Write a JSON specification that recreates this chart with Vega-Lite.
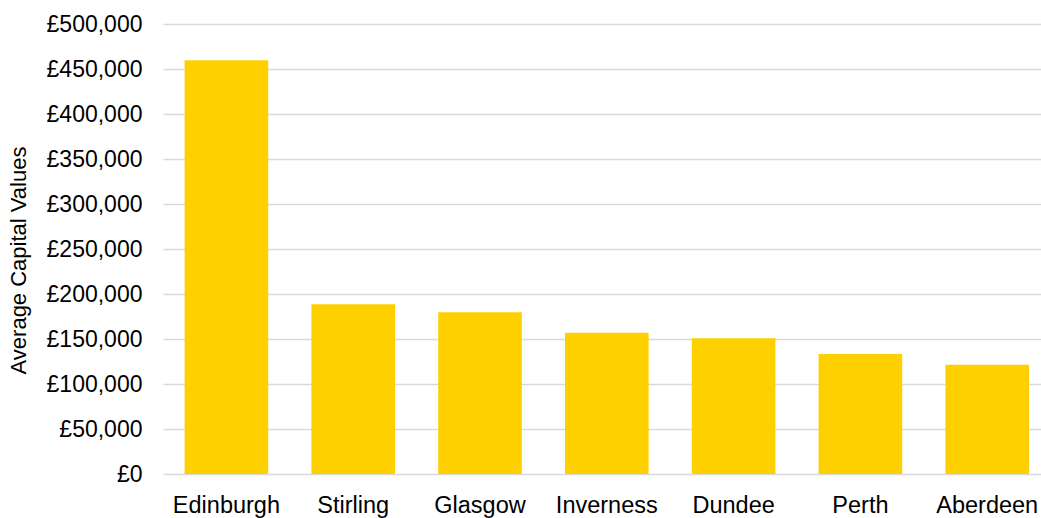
{
  "$schema": "https://vega.github.io/schema/vega-lite/v6.json",
  "autosize": "none",
  "width": 878,
  "height": 450,
  "padding": {"left": 163, "top": 24, "right": 0, "bottom": 44},
  "background": "white",
  "config": {
    "view": {"stroke": null},
    "font": "Liberation Sans",
    "axis": {"labelFont": "Liberation Sans", "titleFont": "Liberation Sans", "labelColor": "#000000", "titleColor": "#000000", "titleFontWeight": "normal"}
  },
  "data": {
    "values": [
      {"city": "Edinburgh", "value": 459600},
      {"city": "Stirling", "value": 188500},
      {"city": "Glasgow", "value": 179700},
      {"city": "Inverness", "value": 157000},
      {"city": "Dundee", "value": 150700},
      {"city": "Perth", "value": 133300},
      {"city": "Aberdeen", "value": 121500}
    ]
  },
  "mark": {"type": "bar", "color": "#FFD000"},
  "encoding": {
    "x": {
      "field": "city",
      "type": "nominal",
      "sort": null,
      "scale": {"paddingInner": 0.3407, "paddingOuter": 0.1325, "align": 0.643},
      "axis": {
        "title": null,
        "domain": false,
        "ticks": false,
        "tickSize": 0,
        "labelAngle": 0,
        "labelFontSize": 23.5,
        "labelPadding": 38,
        "labelBaseline": "alphabetic",
        "grid": false
      }
    },
    "y": {
      "field": "value",
      "type": "quantitative",
      "scale": {"domain": [0, 500000], "nice": false},
      "axis": {
        "title": "Average Capital Values",
        "titleFontSize": 22,
        "titleAngle": -90,
        "titleAlign": "center",
        "titleBaseline": "middle",
        "titleX": -145,
        "titleY": 236,
        "values": [0, 50000, 100000, 150000, 200000, 250000, 300000, 350000, 400000, 450000, 500000],
        "labelExpr": "'£' + format(datum.value, ',')",
        "labelFontSize": 23,
        "labelPadding": 21,
        "labelBaseline": "middle",
        "domain": false,
        "ticks": false,
        "tickSize": 0,
        "grid": true,
        "gridColor": "#d9d9d9",
        "gridWidth": 1.5
      }
    }
  }
}
